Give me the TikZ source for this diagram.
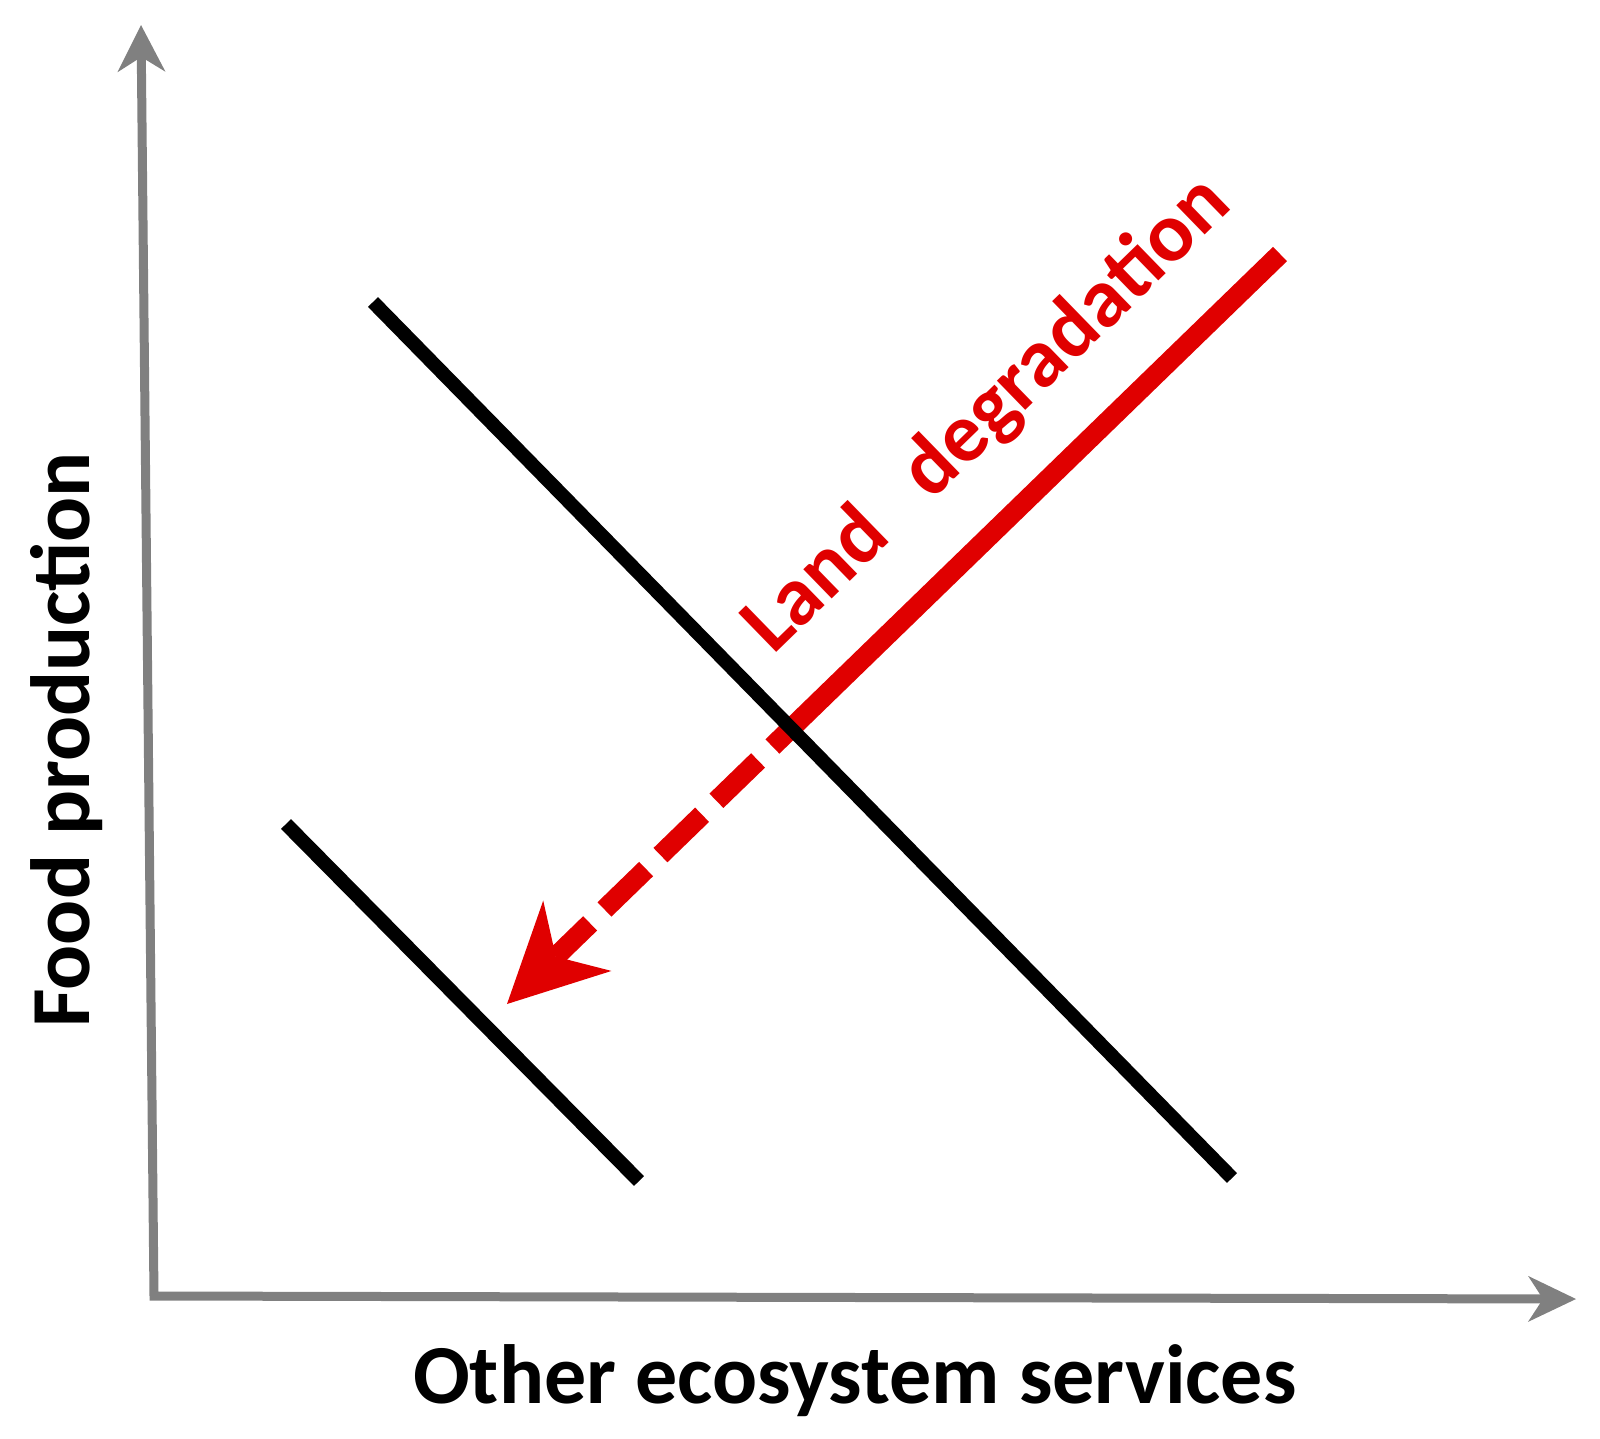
\documentclass[tikz,border=0pt]{standalone}
\usepackage{fontspec}
\setmainfont{Carlito}
\usetikzlibrary{arrows.meta,calc}
\definecolor{axisgray}{RGB}{128,128,128}
\definecolor{degred}{RGB}{224,0,0}
\begin{document}
\begin{tikzpicture}[x=1pt,y=-1pt,
  axisline/.style={draw=axisgray, line width=9pt, line join=miter},
  tradeoff/.style={draw=black, line width=14pt},
  degline/.style={draw=degred, line width=20pt},
  axlbl/.style={font=\bfseries\fontsize{84}{100}\selectfont, inner sep=0pt},
  deglbl/.style={font=\bfseries\fontsize{84}{100}\selectfont, inner sep=0pt, text=degred}]
\useasboundingbox (0,0) rectangle (1600,1438);
% axes
\coordinate (origin) at (154,1296);
\coordinate (ytip) at (141,25);
\coordinate (xtip) at (1576,1299);
\draw[axisline, {Stealth[length=47pt,width=48pt,inset=15pt,line width=0pt]}-{Stealth[length=48pt,width=46pt,inset=15pt,line width=0pt]}] (ytip) -- (origin) -- (xtip);
% red degradation arrow
\coordinate (redtop) at (1280,254);
\coordinate (redtip) at (507,1004);
\coordinate (cross) at ($(redtop)!0.6325!(redtip)$);
\draw[degline] (redtop) -- (cross);
\draw[degline, dash pattern=on 58pt off 20pt, dash phase=32pt, -{Stealth[length=98pt,width=98pt,inset=30pt,line width=0pt]}] (cross) -- (redtip);
% trade-off lines
\coordinate (a1) at (373,302);
\coordinate (a2) at (1232,1178);
\coordinate (b1) at (286,824);
\coordinate (b2) at (639,1181);
\draw[tradeoff] (a1) -- (a2);
\draw[tradeoff] (b1) -- (b2);
% labels
\node[axlbl, anchor=base] (xlabel) at (855,1403) {Other ecosystem services};
\node[axlbl, rotate=90, anchor=base] (ylabel) at (89,740) {Food production};
\node[deglbl, rotate=44.2, anchor=base west] (deglabel) at (773,656) {Land\hspace{54pt}degradation};
\end{tikzpicture}
\end{document}
